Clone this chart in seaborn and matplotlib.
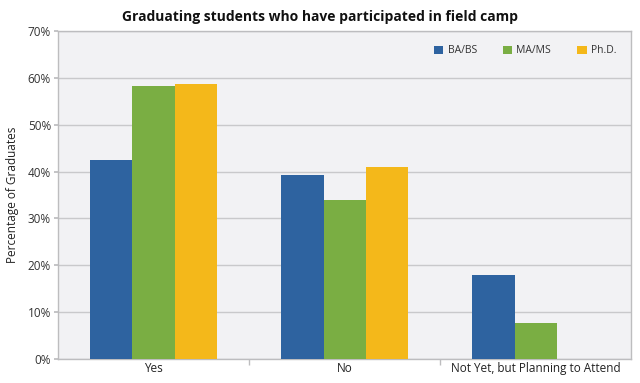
import matplotlib
matplotlib.use("Agg")
import matplotlib.pyplot as plt
import seaborn as sns
import pandas as pd
from matplotlib.ticker import FuncFormatter

categories = ["Yes", "No", "Not Yet, but Planning to Attend"]
degrees = ["BA/BS", "MA/MS", "Ph.D."]
ba_bs = [42.4, 39.3, 17.9]
ma_ms = [58.3, 33.9, 7.7]
phd = [58.8, 40.9, 0.0]
colors = ["#2E63A0", "#7AAE43", "#F4B81A"]

rows = []
for deg, vals in zip(degrees, [ba_bs, ma_ms, phd]):
    for cat, v in zip(categories, vals):
        rows.append({"Response": cat, "Degree": deg, "Value": v})
df = pd.DataFrame(rows)

sns.set_theme(style="white")
plt.rcParams["font.family"] = ["Open Sans", "DejaVu Sans"]

fig = plt.figure(figsize=(6.4, 3.83), dpi=100)
ax = fig.add_axes([0.0906, 0.0627, 0.896, 0.856])
ax.set_facecolor("#F2F2F4")

sns.barplot(data=df, x="Response", y="Value", hue="Degree", order=categories,
            hue_order=degrees, palette=colors, width=0.665, saturation=1,
            linewidth=0, ax=ax, zorder=3)

ax.set_ylim(0, 70)
ax.set_yticks(range(0, 71, 10))
ax.yaxis.set_major_formatter(FuncFormatter(lambda v, p: f"{int(v)}%"))
ax.grid(axis="y", color="#C9C9CB", linewidth=1, zorder=0)
ax.set_axisbelow(True)
ax.set_xlim(-0.5, 2.5)

for s in ax.spines.values():
    s.set_color("#BDBDBF")
    s.set_linewidth(1)

ax.set_xticks([0, 1, 2])
ax.set_xticklabels(categories)
ax.set_xticks([0.5, 1.5], minor=True)
ax.tick_params(axis="x", which="major", length=0, labelsize=8.5, colors="#222222", pad=2)
ax.tick_params(axis="x", which="minor", length=4, color="#BDBDBF", bottom=True)
ax.tick_params(axis="y", length=3, color="#BDBDBF", labelsize=8.5, labelcolor="#333333", left=True, pad=2)

ax.set_xlabel("")
ax.set_ylabel("Percentage of Graduates", fontsize=8.5, color="#222222", labelpad=6)

fig.suptitle("Graduating students who have participated in field camp",
             x=0.5, y=0.975, fontsize=10, fontweight="bold", color="#111111")

leg = ax.legend(loc="upper right", bbox_to_anchor=(0.99, 0.985), ncol=3, frameon=False,
                fontsize=7.5, handlelength=0.9, handleheight=0.9, columnspacing=2.5,
                handletextpad=0.4)
for t in leg.get_texts():
    t.set_color("#333333")

fig.savefig("out.png", dpi=100)
